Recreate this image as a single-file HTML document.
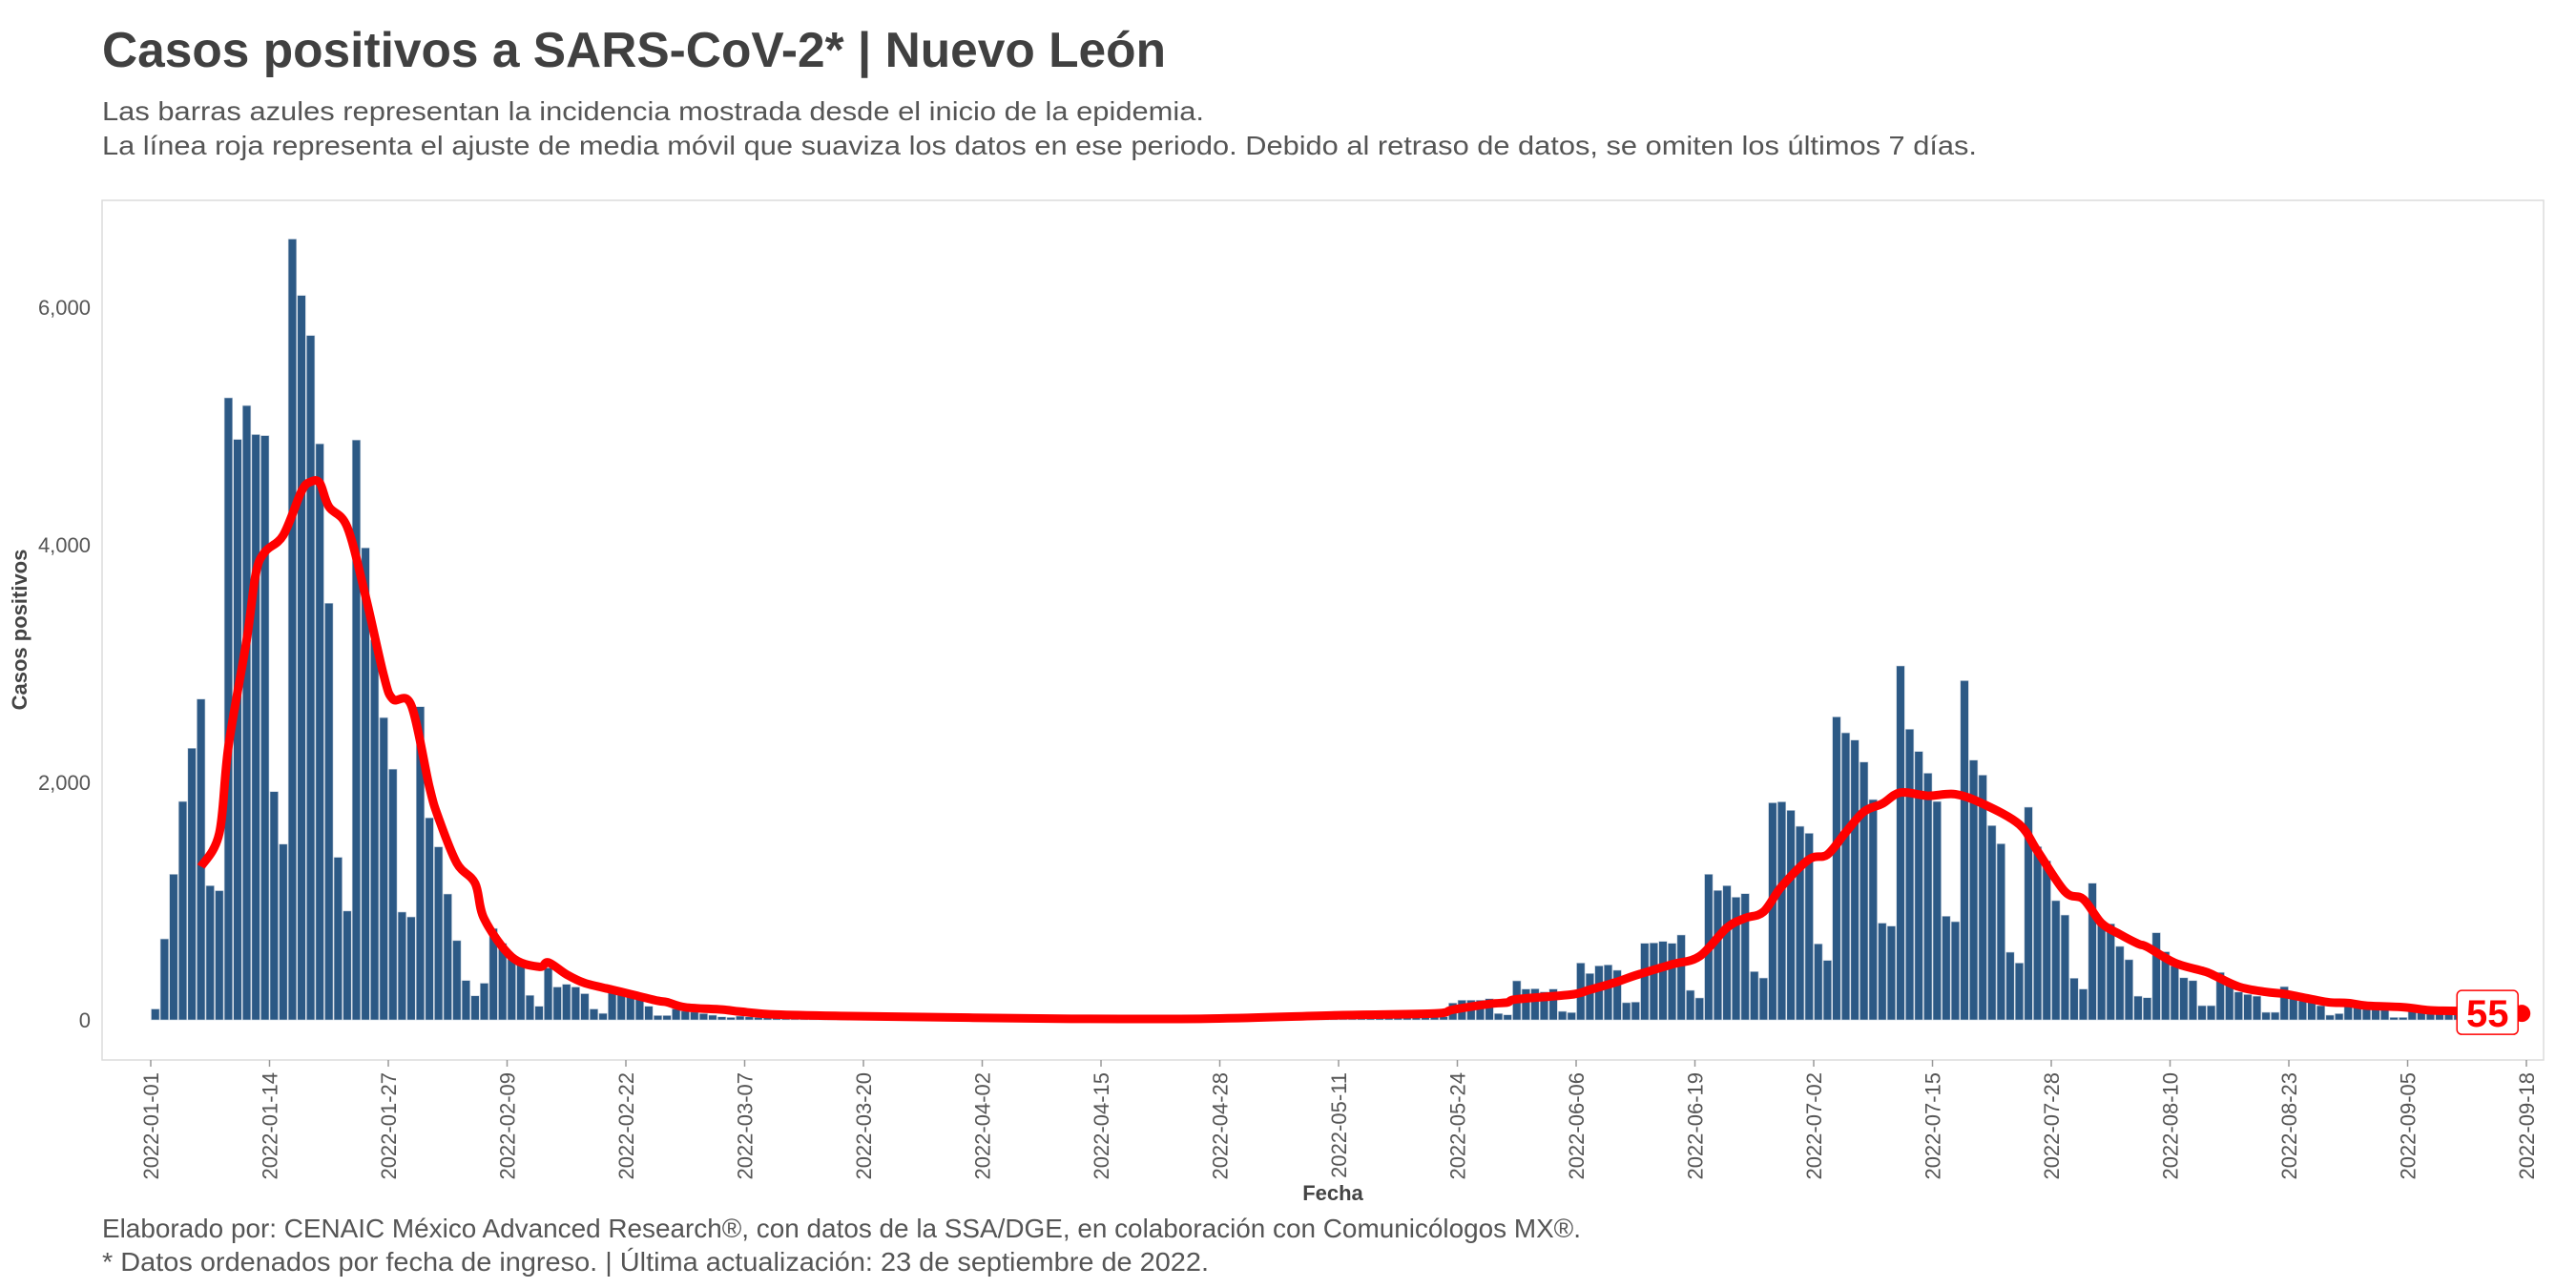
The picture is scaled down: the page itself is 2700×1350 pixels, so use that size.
<!DOCTYPE html>
<html><head><meta charset="utf-8"><style>
html,body{margin:0;padding:0;background:#fff;width:2700px;height:1350px;overflow:hidden}
svg{display:block;font-family:"Liberation Sans",sans-serif}
</style></head><body>
<svg id="chart" width="2700" height="1350" viewBox="0 0 2700 1350" xmlns="http://www.w3.org/2000/svg">
<text x="107" y="70" font-size="52" font-weight="bold" fill="#404040" textLength="1115" lengthAdjust="spacingAndGlyphs">Casos positivos a SARS-CoV-2* | Nuevo León</text>
<text x="107" y="126" font-size="28" fill="#555" textLength="1155" lengthAdjust="spacingAndGlyphs">Las barras azules representan la incidencia mostrada desde el inicio de la epidemia.</text>
<text x="107" y="162" font-size="28" fill="#555" textLength="1965" lengthAdjust="spacingAndGlyphs">La línea roja representa el ajuste de media móvil que suaviza los datos en ese periodo. Debido al retraso de datos, se omiten los últimos 7 días.</text>
<rect x="107" y="210" width="2559" height="901" fill="none" stroke="#dcdcdc" stroke-width="1.5"/>
<g id="yaxis"></g>
<g id="xaxis"></g>
<g id="bars"></g>
<path id="maline" fill="none" stroke="#ff0000" stroke-width="9" stroke-linejoin="round" stroke-linecap="butt"/>
<g id="endlabel"></g>
<text transform="translate(28,660) rotate(-90)" text-anchor="middle" font-size="22" font-weight="bold" fill="#444">Casos positivos</text>
<text x="1397" y="1258" text-anchor="middle" font-size="22" font-weight="bold" fill="#444">Fecha</text>
<text x="107" y="1297" font-size="28" fill="#555" textLength="1550" lengthAdjust="spacingAndGlyphs">Elaborado por: CENAIC México Advanced Research®, con datos de la SSA/DGE, en colaboración con Comunicólogos MX®.</text>
<text x="107" y="1332" font-size="28" fill="#555" textLength="1160" lengthAdjust="spacingAndGlyphs">* Datos ordenados por fecha de ingreso. | Última actualización: 23 de septiembre de 2022.</text>
</svg>
<script>
const casesDaily = [92,682,1226,1839,2287,2701,1130,1088,5237,4887,5172,4928,4919,1922,1480,6574,6099,5762,4850,3508,1369,917,4882,3974,3200,2545,2111,908,867,2637,1701,1457,1060,668,332,203,309,770,645,544,507,207,115,438,277,300,277,221,92,55,253,240,217,184,115,37,
37,93,74,66,53,40,26,21,32,26,21,
30,28,24,20,26,24,22,18,16,
18,16,15,14,17,15,13,12,14,12,11,10,12,11,10,
9,8,10,9,8,7,9,8,7,8,7,6,8,7,6,7,8,6,7,8,
8,9,10,9,11,10,12,13,12,14,15,16,18,17,20,
22,25,28,26,30,35,38,36,40,44,48,45,50,55,
27,27,142,166,166,166,179,54,43,329,260,262,236,260,72,62,479,391,455,463,418,145,150,645,648,661,645,715,249,185,1226,1090,1130,1033,1063,407,353,1828,1836,1764,1630,1571,640,501,2551,2417,2356,2171,1855,815,790,2980,2447,2260,2077,1839,873,827,2856,2187,2061,1636,1483,570,479,1791,1459,1339,1004,883,351,260,1151,
801,809,619,507,200,187,734,574,454,355,331,120,120,400,307,235,214,200,64,64,280,187,160,147,120,40,53,147,147,120,120,107,21,21,80,80,80,53,53,
60,55,50,45,40,55,50];
const lineDays = [5,7,8,10,11,12,14,16,17,18,19,21,23,25,26,28,30,31,33,35,36,39,42,43,45,47,50,52,55,56,58,62,64,68,76,87,99,115,130,140,142,146,148,149,155,157,160,162,166,169,172,174,176,178,181,183,185,187,189,191,194,197,200,204,206,209,211,213,215,217,218,221,224,225,228,231,233,236,238,240,242,246,249,252,259];
const lineVals = [1290,1570,2300,3200,3757,3940,4080,4450,4530,4520,4320,4150,3570,2900,2700,2650,1960,1700,1320,1150,850,530,447,484,383,310,254,217,161,150,106,87,70,45,32,21,10,10,40,54,86,134,147,174,214,254,321,375,468,535,776,857,910,1124,1352,1392,1579,1753,1820,1914,1887,1900,1820,1646,1420,1080,1017,814,721,641,614,481,414,387,280,235,219,174,147,142,120,107,80,75,55];
const yTicks = [0,2000,4000,6000];
const yTickLabels = ["0","2,000","4,000","6,000"];
const xTickDays = [0,13,26,39,52,65,78,91,104,117,130,143,156,169,182,195,208,221,234,247,260];
const xTickLabels = ["2022-01-01","2022-01-14","2022-01-27","2022-02-09","2022-02-22","2022-03-07","2022-03-20","2022-04-02","2022-04-15","2022-04-28","2022-05-11","2022-05-24","2022-06-06","2022-06-19","2022-07-02","2022-07-15","2022-07-28","2022-08-10","2022-08-23","2022-09-05","2022-09-18"];
const lastLabel = "55";

const NS="http://www.w3.org/2000/svg";
const X0=158, DX=9.577, Y0=1069, KY=0.1245;
function xs(d){return X0+DX*d;}
function ys(v){return Y0-KY*v;}
function mk(tag,attrs,parent){const e=document.createElementNS(NS,tag);for(const k in attrs)e.setAttribute(k,attrs[k]);parent.appendChild(e);return e;}

const ya=document.getElementById('yaxis');
yTicks.forEach((v,i)=>{
  const t=mk('text',{x:95,y:ys(v)+8,'text-anchor':'end','font-size':22,fill:'#555'},ya);
  
  
  t.textContent=yTickLabels[i];
});
const xa=document.getElementById('xaxis');
xTickDays.forEach((d,i)=>{
  const x=xs(d);
  const l=mk('line',{x1:x,x2:x,y1:1111,y2:1118,stroke:'#999','stroke-width':1.5},xa);
  
  
  const t=mk('text',{transform:`translate(${x+8},1124) rotate(-90)`,'text-anchor':'end','font-size':22,fill:'#555'},xa);
  
  
  t.textContent=xTickLabels[i];
});
const bg=document.getElementById('bars');
casesDaily.forEach((v,d)=>{
  const r=mk('rect',{x:xs(d)+0.5,y:ys(v),width:DX-1,height:Y0-ys(v),fill:'#2c5985',stroke:'#c9d3df','stroke-width':0.6},bg);
  
  
});
// line (Catmull-Rom smoothing of read points)
const pts=lineDays.map((d,i)=>[xs(d)+DX/2,ys(lineVals[i])]);
let p='M'+pts[0][0]+','+pts[0][1];
for(let i=0;i<pts.length-1;i++){
  const a=pts[Math.max(0,i-1)],b=pts[i],c=pts[i+1],e=pts[Math.min(pts.length-1,i+2)];
  const c1=[b[0]+(c[0]-a[0])/6,b[1]+(c[1]-a[1])/6],c2=[c[0]-(e[0]-b[0])/6,c[1]-(e[1]-b[1])/6];
  p+=` C${c1[0]},${c1[1]} ${c2[0]},${c2[1]} ${c[0]},${c[1]}`;
}
document.getElementById('maline').setAttribute('d',p);
const el=document.getElementById('endlabel');
const lp=pts[pts.length-1];
const dot=mk('circle',{cx:lp[0],cy:lp[1],r:9,fill:'#ff0000'},el);


const box=mk('rect',{x:lp[0]-68,y:lp[1]-24,width:64,height:46,rx:5,fill:'#fff',stroke:'#ff0000','stroke-width':1.5},el);


const lt=mk('text',{x:lp[0]-36,y:lp[1]+14,'text-anchor':'middle','font-size':40,'font-weight':'bold',fill:'#ff0000'},el);


lt.textContent=lastLabel;
</script>
</body></html>
